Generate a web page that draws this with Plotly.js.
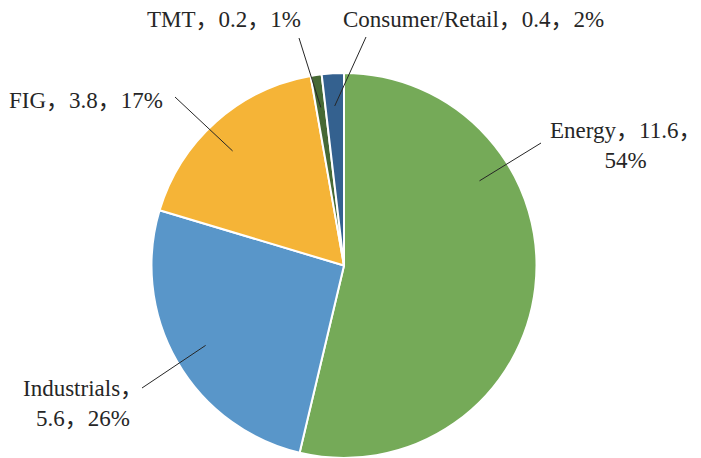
<!DOCTYPE html>
<html>
<head>
<meta charset="utf-8">
<script src="https://cdn.plot.ly/plotly-3.0.1.min.js"></script>
<style>html,body{margin:0;padding:0;background:#fff;}#chart{width:701px;height:458px;}</style>
</head>
<body>
<div id="chart"></div>
<script>
// ---- data ----
const categories = ["Energy", "Industrials", "FIG", "TMT", "Consumer/Retail"];
const values = [11.6, 5.6, 3.8, 0.2, 0.4];
const percentLabels = ["54%", "26%", "17%", "1%", "2%"];
const colors = ["#75AA58", "#5996C9", "#F5B437", "#466934", "#34618F"];

// ---- layout geometry ----
const W = 701, H = 458;
const dom = {x: [151 / W, 537 / W], y: [0, 385 / H]};
const cx = (dom.x[0] + dom.x[1]) / 2 * W;
const cy = H - (dom.y[0] + dom.y[1]) / 2 * H;
const R = Math.min((dom.x[1] - dom.x[0]) * W, (dom.y[1] - dom.y[0]) * H) / 2;

// label text built from data
const sep = "，";
const labelTexts = categories.map((c, i) => {
  const v = values[i].toFixed(1);
  if (c === "Energy") return c + sep + v + sep + "<br>" + percentLabels[i];
  if (c === "Industrials") return c + sep + "<br>" + v + sep + percentLabels[i];
  return c + sep + v + sep + percentLabels[i];
});

// label placement (pixels, centre of text) and leader-line tails
const labelPos = [[625, 146], [83, 403], [86, 100], [224, 19], [473, 19]];
const lineTail = [[541, 143], [142, 388], [175, 97], [299, 38], [366, 37]];
const anchorFrac = [0.3, 0.5, 0.46, 0.5, 0.5];
const anchorR = 0.83;

const total = values.reduce((a, b) => a + b, 0);
let cum = 0;
const shapes = [];
const annotations = [];
values.forEach((v, i) => {
  const ang = (cum + v * anchorFrac[i]) / total * 2 * Math.PI; // clockwise from 12 o'clock
  cum += v;
  const tx = cx + Math.sin(ang) * R * anchorR;
  const ty = cy - Math.cos(ang) * R * anchorR;
  shapes.push({
    type: "line", xref: "paper", yref: "paper",
    x0: lineTail[i][0] / W, y0: 1 - lineTail[i][1] / H,
    x1: tx / W, y1: 1 - ty / H,
    line: {color: "#262626", width: 1}
  });
  annotations.push({
    xref: "paper", yref: "paper",
    x: labelPos[i][0] / W, y: 1 - labelPos[i][1] / H,
    xanchor: "center", yanchor: "middle",
    text: labelTexts[i], showarrow: false, align: "center",
    font: {family: "Liberation Serif, Noto Sans CJK SC, serif", size: 23, color: "#262626"}
  });
});

const trace = {
  type: "pie",
  labels: categories,
  values: values,
  sort: false,
  direction: "clockwise",
  rotation: 0,
  textinfo: "none",
  hoverinfo: "none",
  marker: {colors: colors, line: {color: "#ffffff", width: 2}},
  domain: dom,
  showlegend: false
};

const layout = {
  width: W, height: H,
  margin: {l: 0, r: 0, t: 0, b: 0},
  paper_bgcolor: "#ffffff",
  showlegend: false,
  shapes: shapes,
  annotations: annotations
};

Plotly.newPlot("chart", [trace], layout, {displayModeBar: false, staticPlot: true});
</script>
</body>
</html>
